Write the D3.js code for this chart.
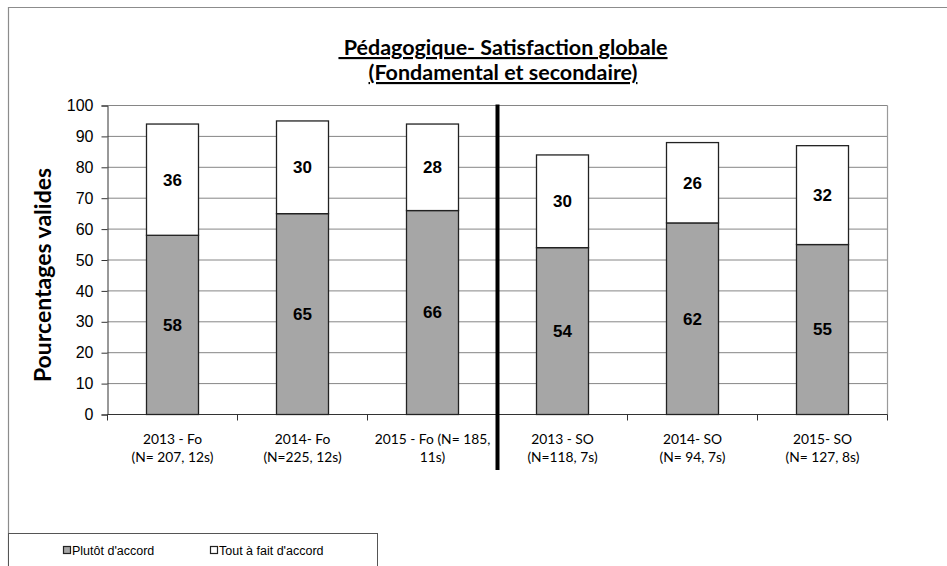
<!DOCTYPE html>
<html>
<head>
<meta charset="utf-8">
<script src="https://cdn.jsdelivr.net/npm/d3@7"></script>
<style>
  html, body { margin: 0; padding: 0; background: #fff; }
  svg { display: block; }
</style>
</head>
<body>
<svg id="chart" width="947" height="566"></svg>
<script>
// Survey groups (two label lines each)
const categories = ["2013 - Fo", "2014- Fo", "2015 - Fo", "2013 - SO", "2014- SO", "2015- SO"];
const categoryLines = [
  ["2013 - Fo", "(N= 207, 12s)"],
  ["2014- Fo", "(N=225, 12s)"],
  ["2015 - Fo (N= 185,", "11s)"],
  ["2013 - SO", "(N=118, 7s)"],
  ["2014- SO", "(N= 94, 7s)"],
  ["2015- SO", "(N= 127, 8s)"]
];
const plutotDaccord = [58, 65, 66, 54, 62, 55];
const toutAFaitDaccord = [36, 30, 28, 30, 26, 32];
const yTicks = [0, 10, 20, 30, 40, 50, 60, 70, 80, 90, 100];
const seriesNames = ["Plutôt d'accord", "Tout à fait d'accord"];
const seriesColors = ["#a6a6a6", "#ffffff"];

const svg = d3.select("#chart");
const plotL = 107.5, plotR = 887.5, plotT = 105.5, plotB = 414.5;

const x = d3.scaleBand().domain(categories).range([plotL, plotR]).paddingInner(0).paddingOuter(0);
const y = d3.scaleLinear().domain([0, 100]).range([plotB, plotT]);
const barW = x.bandwidth() * 0.4;

// Outer frame (top and left edges)
svg.append("path")
  .attr("d", `M8.5,566 V7.5 H947`)
  .attr("fill", "none").attr("stroke", "#8c8c8c").attr("stroke-width", 1.2);

// Gridlines
svg.append("g").selectAll("line").data(yTicks.slice(1)).join("line")
  .attr("x1", plotL).attr("x2", plotR)
  .attr("y1", d => y(d)).attr("y2", d => y(d))
  .attr("stroke", "#868686").attr("stroke-width", 1);
// Right border of plot area
svg.append("line").attr("x1", plotR).attr("x2", plotR).attr("y1", plotT).attr("y2", plotB)
  .attr("stroke", "#9a9a9a").attr("stroke-width", 1.2);

// Y axis
const yAxis = svg.append("g").attr("transform", `translate(${plotL},0)`)
  .call(d3.axisLeft(y).tickValues(yTicks).tickSize(6).tickPadding(8));
yAxis.select(".domain").attr("stroke", "#333").attr("stroke-width", 1);
yAxis.selectAll(".tick line").attr("stroke", "#333");
yAxis.selectAll("text").attr("font-family", "Liberation Sans, Arial, sans-serif")
  .attr("font-size", 16).attr("fill", "#000");

// X axis with ticks at group boundaries
const xAxis = svg.append("g").attr("transform", `translate(0,${plotB})`);
xAxis.append("line").attr("x1", plotL).attr("x2", plotR).attr("stroke", "#333").attr("stroke-width", 1.2);
const bounds = categories.map(c => x(c)).concat([plotR]);
xAxis.selectAll("line.tk").data(bounds).join("line").attr("class", "tk")
  .attr("x1", d => d).attr("x2", d => d).attr("y1", 0).attr("y2", 6)
  .attr("stroke", "#333");
const xl = xAxis.selectAll("text.cat").data(categories).join("text").attr("class", "cat")
  .attr("x", d => x(d) + x.bandwidth() / 2)
  .attr("text-anchor", "middle")
  .attr("font-family", "Lato, Carlito, Calibri, sans-serif")
  .attr("font-size", 13.8).attr("fill", "#000");
xl.each(function(d, i) {
  const t = d3.select(this);
  categoryLines[i].forEach((ln, j) => {
    t.append("tspan").attr("x", x(d) + x.bandwidth() / 2).attr("y", 29 + j * 18).text(ln);
  });
});

// Stacked bars
const rows = categories.map((c, i) => ({ cat: c, vals: [plutotDaccord[i], toutAFaitDaccord[i]] }));
const gBars = svg.append("g");
rows.forEach(r => {
  let base = 0;
  r.vals.forEach((v, s) => {
    const x0 = x(r.cat) + (x.bandwidth() - barW) / 2;
    gBars.append("rect")
      .attr("x", x0).attr("width", barW)
      .attr("y", y(base + v)).attr("height", y(base) - y(base + v))
      .attr("fill", seriesColors[s]).attr("stroke", "#222").attr("stroke-width", 1.3);
    gBars.append("text")
      .attr("x", x(r.cat) + x.bandwidth() / 2)
      .attr("y", y(base + v / 2)).attr("dy", "0.35em")
      .attr("text-anchor", "middle")
      .attr("font-family", "Liberation Sans, Arial, sans-serif")
      .attr("font-weight", "bold").attr("font-size", 17).attr("fill", "#000")
      .text(v);
    base += v;
  });
});

// Separator between Fondamental and Secondaire groups
svg.append("line")
  .attr("x1", x(categories[3])).attr("x2", x(categories[3]))
  .attr("y1", plotT - 1).attr("y2", 470)
  .attr("stroke", "#000").attr("stroke-width", 4);

// Title
const title = svg.append("text").attr("text-anchor", "middle")
  .attr("font-family", "Lato, Carlito, Calibri, sans-serif")
  .attr("font-weight", "bold").attr("font-size", 21.5).attr("fill", "#000")
  .attr("text-decoration", "underline");
title.append("tspan").attr("x", 503).attr("y", 55).text("\u00a0Pédagogique- Satisfaction globale");
title.append("tspan").attr("x", 503).attr("y", 80).text("(Fondamental et secondaire)");

// Y axis title
svg.append("text")
  .attr("transform", `translate(51,275) rotate(-90)`)
  .attr("text-anchor", "middle")
  .attr("font-family", "Lato, Carlito, Calibri, sans-serif")
  .attr("font-weight", "bold").attr("font-size", 23).attr("fill", "#000")
  .text("Pourcentages valides");

// Legend
const lg = svg.append("g");
lg.append("rect").attr("x", 8.5).attr("y", 533.5).attr("width", 369).attr("height", 40)
  .attr("fill", "#fff").attr("stroke", "#555").attr("stroke-width", 1);
const legendX = [63, 210];
seriesNames.forEach((n, i) => {
  lg.append("rect").attr("x", legendX[i] + 0.5).attr("y", 546.5).attr("width", 7).attr("height", 7)
    .attr("fill", seriesColors[i]).attr("stroke", "#222").attr("stroke-width", 1.2);
  lg.append("text").attr("x", legendX[i] + 9).attr("y", 555)
    .attr("font-family", "Liberation Sans, Arial, sans-serif").attr("font-size", 12.5).attr("fill", "#000")
    .text(n);
});
</script>
</body>
</html>
